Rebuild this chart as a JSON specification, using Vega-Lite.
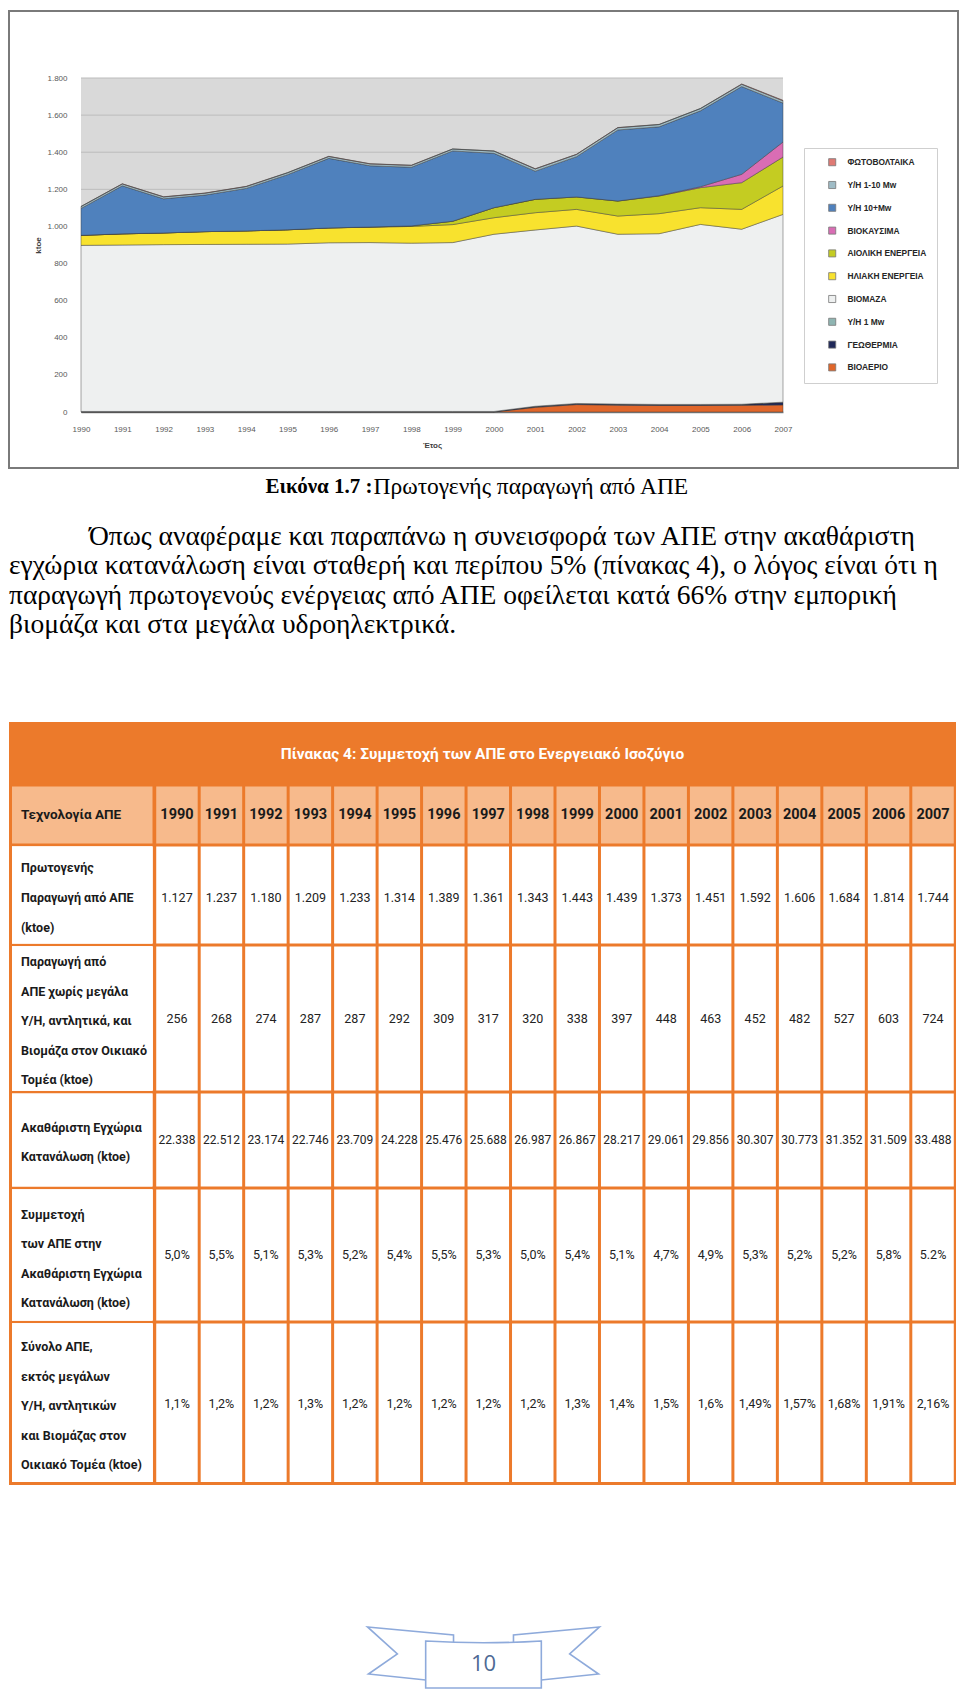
{
  "$schema": "https://vega.github.io/schema/vega-lite/v6.json",
  "background": "white",
  "padding": {"left": 8, "top": 10, "right": 0, "bottom": 0},
  "spacing": 0,
  "config": {"view": {"stroke": null}},
  "datasets": {
    "series": [
      {"source": "ΦΩΤΟΒΟΛΤΑΙΚΑ", "legendRank": 1},
      {"source": "Υ/Η 1-10 Mw", "legendRank": 2},
      {"source": "Υ/Η 10+Mw", "legendRank": 3},
      {"source": "ΒΙΟΚΑΥΣΙΜΑ", "legendRank": 4},
      {"source": "ΑΙΟΛΙΚΗ ΕΝΕΡΓΕΙΑ", "legendRank": 5},
      {"source": "ΗΛΙΑΚΗ ΕΝΕΡΓΕΙΑ", "legendRank": 6},
      {"source": "ΒΙΟΜΑΖΑ", "legendRank": 7},
      {"source": "Υ/Η 1 Mw", "legendRank": 8},
      {"source": "ΓΕΩΘΕΡΜΙΑ", "legendRank": 9},
      {"source": "ΒΙΟΑΕΡΙΟ", "legendRank": 10}
    ],
    "production": [
      {"year": 1990, "source": "ΒΙΟΑΕΡΙΟ", "ktoe": 0}, {"year": 1991, "source": "ΒΙΟΑΕΡΙΟ", "ktoe": 0}, {"year": 1992, "source": "ΒΙΟΑΕΡΙΟ", "ktoe": 0}, {"year": 1993, "source": "ΒΙΟΑΕΡΙΟ", "ktoe": 0}, {"year": 1994, "source": "ΒΙΟΑΕΡΙΟ", "ktoe": 0}, {"year": 1995, "source": "ΒΙΟΑΕΡΙΟ", "ktoe": 0}, {"year": 1996, "source": "ΒΙΟΑΕΡΙΟ", "ktoe": 0}, {"year": 1997, "source": "ΒΙΟΑΕΡΙΟ", "ktoe": 0}, {"year": 1998, "source": "ΒΙΟΑΕΡΙΟ", "ktoe": 0}, {"year": 1999, "source": "ΒΙΟΑΕΡΙΟ", "ktoe": 0}, {"year": 2000, "source": "ΒΙΟΑΕΡΙΟ", "ktoe": 0}, {"year": 2001, "source": "ΒΙΟΑΕΡΙΟ", "ktoe": 25}, {"year": 2002, "source": "ΒΙΟΑΕΡΙΟ", "ktoe": 40}, {"year": 2003, "source": "ΒΙΟΑΕΡΙΟ", "ktoe": 37}, {"year": 2004, "source": "ΒΙΟΑΕΡΙΟ", "ktoe": 35}, {"year": 2005, "source": "ΒΙΟΑΕΡΙΟ", "ktoe": 35}, {"year": 2006, "source": "ΒΙΟΑΕΡΙΟ", "ktoe": 36}, {"year": 2007, "source": "ΒΙΟΑΕΡΙΟ", "ktoe": 38},
      {"year": 1990, "source": "ΓΕΩΘΕΡΜΙΑ", "ktoe": 2}, {"year": 1991, "source": "ΓΕΩΘΕΡΜΙΑ", "ktoe": 2}, {"year": 1992, "source": "ΓΕΩΘΕΡΜΙΑ", "ktoe": 2}, {"year": 1993, "source": "ΓΕΩΘΕΡΜΙΑ", "ktoe": 2}, {"year": 1994, "source": "ΓΕΩΘΕΡΜΙΑ", "ktoe": 2}, {"year": 1995, "source": "ΓΕΩΘΕΡΜΙΑ", "ktoe": 2}, {"year": 1996, "source": "ΓΕΩΘΕΡΜΙΑ", "ktoe": 2}, {"year": 1997, "source": "ΓΕΩΘΕΡΜΙΑ", "ktoe": 2}, {"year": 1998, "source": "ΓΕΩΘΕΡΜΙΑ", "ktoe": 2}, {"year": 1999, "source": "ΓΕΩΘΕΡΜΙΑ", "ktoe": 2}, {"year": 2000, "source": "ΓΕΩΘΕΡΜΙΑ", "ktoe": 2}, {"year": 2001, "source": "ΓΕΩΘΕΡΜΙΑ", "ktoe": 5}, {"year": 2002, "source": "ΓΕΩΘΕΡΜΙΑ", "ktoe": 5}, {"year": 2003, "source": "ΓΕΩΘΕΡΜΙΑ", "ktoe": 5}, {"year": 2004, "source": "ΓΕΩΘΕΡΜΙΑ", "ktoe": 5}, {"year": 2005, "source": "ΓΕΩΘΕΡΜΙΑ", "ktoe": 5}, {"year": 2006, "source": "ΓΕΩΘΕΡΜΙΑ", "ktoe": 5}, {"year": 2007, "source": "ΓΕΩΘΕΡΜΙΑ", "ktoe": 14},
      {"year": 1990, "source": "Υ/Η 1 Mw", "ktoe": 1}, {"year": 1991, "source": "Υ/Η 1 Mw", "ktoe": 1}, {"year": 1992, "source": "Υ/Η 1 Mw", "ktoe": 1}, {"year": 1993, "source": "Υ/Η 1 Mw", "ktoe": 1}, {"year": 1994, "source": "Υ/Η 1 Mw", "ktoe": 1}, {"year": 1995, "source": "Υ/Η 1 Mw", "ktoe": 1}, {"year": 1996, "source": "Υ/Η 1 Mw", "ktoe": 1}, {"year": 1997, "source": "Υ/Η 1 Mw", "ktoe": 1}, {"year": 1998, "source": "Υ/Η 1 Mw", "ktoe": 1}, {"year": 1999, "source": "Υ/Η 1 Mw", "ktoe": 1}, {"year": 2000, "source": "Υ/Η 1 Mw", "ktoe": 1}, {"year": 2001, "source": "Υ/Η 1 Mw", "ktoe": 1}, {"year": 2002, "source": "Υ/Η 1 Mw", "ktoe": 1}, {"year": 2003, "source": "Υ/Η 1 Mw", "ktoe": 1}, {"year": 2004, "source": "Υ/Η 1 Mw", "ktoe": 1}, {"year": 2005, "source": "Υ/Η 1 Mw", "ktoe": 1}, {"year": 2006, "source": "Υ/Η 1 Mw", "ktoe": 1}, {"year": 2007, "source": "Υ/Η 1 Mw", "ktoe": 1},
      {"year": 1990, "source": "ΒΙΟΜΑΖΑ", "ktoe": 895}, {"year": 1991, "source": "ΒΙΟΜΑΖΑ", "ktoe": 897}, {"year": 1992, "source": "ΒΙΟΜΑΖΑ", "ktoe": 899}, {"year": 1993, "source": "ΒΙΟΜΑΖΑ", "ktoe": 900}, {"year": 1994, "source": "ΒΙΟΜΑΖΑ", "ktoe": 901}, {"year": 1995, "source": "ΒΙΟΜΑΖΑ", "ktoe": 902}, {"year": 1996, "source": "ΒΙΟΜΑΖΑ", "ktoe": 909}, {"year": 1997, "source": "ΒΙΟΜΑΖΑ", "ktoe": 910}, {"year": 1998, "source": "ΒΙΟΜΑΖΑ", "ktoe": 907}, {"year": 1999, "source": "ΒΙΟΜΑΖΑ", "ktoe": 910}, {"year": 2000, "source": "ΒΙΟΜΑΖΑ", "ktoe": 955}, {"year": 2001, "source": "ΒΙΟΜΑΖΑ", "ktoe": 950}, {"year": 2002, "source": "ΒΙΟΜΑΖΑ", "ktoe": 956}, {"year": 2003, "source": "ΒΙΟΜΑΖΑ", "ktoe": 915}, {"year": 2004, "source": "ΒΙΟΜΑΖΑ", "ktoe": 920}, {"year": 2005, "source": "ΒΙΟΜΑΖΑ", "ktoe": 970}, {"year": 2006, "source": "ΒΙΟΜΑΖΑ", "ktoe": 943}, {"year": 2007, "source": "ΒΙΟΜΑΖΑ", "ktoe": 1012},
      {"year": 1990, "source": "ΗΛΙΑΚΗ ΕΝΕΡΓΕΙΑ", "ktoe": 54}, {"year": 1991, "source": "ΗΛΙΑΚΗ ΕΝΕΡΓΕΙΑ", "ktoe": 60}, {"year": 1992, "source": "ΗΛΙΑΚΗ ΕΝΕΡΓΕΙΑ", "ktoe": 63}, {"year": 1993, "source": "ΗΛΙΑΚΗ ΕΝΕΡΓΕΙΑ", "ktoe": 69}, {"year": 1994, "source": "ΗΛΙΑΚΗ ΕΝΕΡΓΕΙΑ", "ktoe": 72}, {"year": 1995, "source": "ΗΛΙΑΚΗ ΕΝΕΡΓΕΙΑ", "ktoe": 77}, {"year": 1996, "source": "ΗΛΙΑΚΗ ΕΝΕΡΓΕΙΑ", "ktoe": 80}, {"year": 1997, "source": "ΗΛΙΑΚΗ ΕΝΕΡΓΕΙΑ", "ktoe": 83}, {"year": 1998, "source": "ΗΛΙΑΚΗ ΕΝΕΡΓΕΙΑ", "ktoe": 90}, {"year": 1999, "source": "ΗΛΙΑΚΗ ΕΝΕΡΓΕΙΑ", "ktoe": 97}, {"year": 2000, "source": "ΗΛΙΑΚΗ ΕΝΕΡΓΕΙΑ", "ktoe": 89}, {"year": 2001, "source": "ΗΛΙΑΚΗ ΕΝΕΡΓΕΙΑ", "ktoe": 93}, {"year": 2002, "source": "ΗΛΙΑΚΗ ΕΝΕΡΓΕΙΑ", "ktoe": 90}, {"year": 2003, "source": "ΗΛΙΑΚΗ ΕΝΕΡΓΕΙΑ", "ktoe": 98}, {"year": 2004, "source": "ΗΛΙΑΚΗ ΕΝΕΡΓΕΙΑ", "ktoe": 108}, {"year": 2005, "source": "ΗΛΙΑΚΗ ΕΝΕΡΓΕΙΑ", "ktoe": 90}, {"year": 2006, "source": "ΗΛΙΑΚΗ ΕΝΕΡΓΕΙΑ", "ktoe": 107}, {"year": 2007, "source": "ΗΛΙΑΚΗ ΕΝΕΡΓΕΙΑ", "ktoe": 153},
      {"year": 1990, "source": "ΑΙΟΛΙΚΗ ΕΝΕΡΓΕΙΑ", "ktoe": 0}, {"year": 1991, "source": "ΑΙΟΛΙΚΗ ΕΝΕΡΓΕΙΑ", "ktoe": 0}, {"year": 1992, "source": "ΑΙΟΛΙΚΗ ΕΝΕΡΓΕΙΑ", "ktoe": 0}, {"year": 1993, "source": "ΑΙΟΛΙΚΗ ΕΝΕΡΓΕΙΑ", "ktoe": 0}, {"year": 1994, "source": "ΑΙΟΛΙΚΗ ΕΝΕΡΓΕΙΑ", "ktoe": 0}, {"year": 1995, "source": "ΑΙΟΛΙΚΗ ΕΝΕΡΓΕΙΑ", "ktoe": 0}, {"year": 1996, "source": "ΑΙΟΛΙΚΗ ΕΝΕΡΓΕΙΑ", "ktoe": 0}, {"year": 1997, "source": "ΑΙΟΛΙΚΗ ΕΝΕΡΓΕΙΑ", "ktoe": 1}, {"year": 1998, "source": "ΑΙΟΛΙΚΗ ΕΝΕΡΓΕΙΑ", "ktoe": 3}, {"year": 1999, "source": "ΑΙΟΛΙΚΗ ΕΝΕΡΓΕΙΑ", "ktoe": 18}, {"year": 2000, "source": "ΑΙΟΛΙΚΗ ΕΝΕΡΓΕΙΑ", "ktoe": 54}, {"year": 2001, "source": "ΑΙΟΛΙΚΗ ΕΝΕΡΓΕΙΑ", "ktoe": 72}, {"year": 2002, "source": "ΑΙΟΛΙΚΗ ΕΝΕΡΓΕΙΑ", "ktoe": 67}, {"year": 2003, "source": "ΑΙΟΛΙΚΗ ΕΝΕΡΓΕΙΑ", "ktoe": 81}, {"year": 2004, "source": "ΑΙΟΛΙΚΗ ΕΝΕΡΓΕΙΑ", "ktoe": 95}, {"year": 2005, "source": "ΑΙΟΛΙΚΗ ΕΝΕΡΓΕΙΑ", "ktoe": 108}, {"year": 2006, "source": "ΑΙΟΛΙΚΗ ΕΝΕΡΓΕΙΑ", "ktoe": 144}, {"year": 2007, "source": "ΑΙΟΛΙΚΗ ΕΝΕΡΓΕΙΑ", "ktoe": 156},
      {"year": 1990, "source": "ΒΙΟΚΑΥΣΙΜΑ", "ktoe": 0}, {"year": 1991, "source": "ΒΙΟΚΑΥΣΙΜΑ", "ktoe": 0}, {"year": 1992, "source": "ΒΙΟΚΑΥΣΙΜΑ", "ktoe": 0}, {"year": 1993, "source": "ΒΙΟΚΑΥΣΙΜΑ", "ktoe": 0}, {"year": 1994, "source": "ΒΙΟΚΑΥΣΙΜΑ", "ktoe": 0}, {"year": 1995, "source": "ΒΙΟΚΑΥΣΙΜΑ", "ktoe": 0}, {"year": 1996, "source": "ΒΙΟΚΑΥΣΙΜΑ", "ktoe": 0}, {"year": 1997, "source": "ΒΙΟΚΑΥΣΙΜΑ", "ktoe": 0}, {"year": 1998, "source": "ΒΙΟΚΑΥΣΙΜΑ", "ktoe": 0}, {"year": 1999, "source": "ΒΙΟΚΑΥΣΙΜΑ", "ktoe": 0}, {"year": 2000, "source": "ΒΙΟΚΑΥΣΙΜΑ", "ktoe": 0}, {"year": 2001, "source": "ΒΙΟΚΑΥΣΙΜΑ", "ktoe": 0}, {"year": 2002, "source": "ΒΙΟΚΑΥΣΙΜΑ", "ktoe": 0}, {"year": 2003, "source": "ΒΙΟΚΑΥΣΙΜΑ", "ktoe": 0}, {"year": 2004, "source": "ΒΙΟΚΑΥΣΙΜΑ", "ktoe": 2}, {"year": 2005, "source": "ΒΙΟΚΑΥΣΙΜΑ", "ktoe": 5}, {"year": 2006, "source": "ΒΙΟΚΑΥΣΙΜΑ", "ktoe": 45}, {"year": 2007, "source": "ΒΙΟΚΑΥΣΙΜΑ", "ktoe": 81},
      {"year": 1990, "source": "Υ/Η 10+Mw", "ktoe": 145}, {"year": 1991, "source": "Υ/Η 10+Mw", "ktoe": 259}, {"year": 1992, "source": "Υ/Η 10+Mw", "ktoe": 184}, {"year": 1993, "source": "Υ/Η 10+Mw", "ktoe": 197}, {"year": 1994, "source": "Υ/Η 10+Mw", "ktoe": 229}, {"year": 1995, "source": "Υ/Η 10+Mw", "ktoe": 297}, {"year": 1996, "source": "Υ/Η 10+Mw", "ktoe": 375}, {"year": 1997, "source": "Υ/Η 10+Mw", "ktoe": 330}, {"year": 1998, "source": "Υ/Η 10+Mw", "ktoe": 316}, {"year": 1999, "source": "Υ/Η 10+Mw", "ktoe": 379}, {"year": 2000, "source": "Υ/Η 10+Mw", "ktoe": 293}, {"year": 2001, "source": "Υ/Η 10+Mw", "ktoe": 152}, {"year": 2002, "source": "Υ/Η 10+Mw", "ktoe": 217}, {"year": 2003, "source": "Υ/Η 10+Mw", "ktoe": 383}, {"year": 2004, "source": "Υ/Η 10+Mw", "ktoe": 371}, {"year": 2005, "source": "Υ/Η 10+Mw", "ktoe": 409}, {"year": 2006, "source": "Υ/Η 10+Mw", "ktoe": 473}, {"year": 2007, "source": "Υ/Η 10+Mw", "ktoe": 210},
      {"year": 1990, "source": "Υ/Η 1-10 Mw", "ktoe": 10}, {"year": 1991, "source": "Υ/Η 1-10 Mw", "ktoe": 10}, {"year": 1992, "source": "Υ/Η 1-10 Mw", "ktoe": 10}, {"year": 1993, "source": "Υ/Η 1-10 Mw", "ktoe": 10}, {"year": 1994, "source": "Υ/Η 1-10 Mw", "ktoe": 10}, {"year": 1995, "source": "Υ/Η 1-10 Mw", "ktoe": 10}, {"year": 1996, "source": "Υ/Η 1-10 Mw", "ktoe": 10}, {"year": 1997, "source": "Υ/Η 1-10 Mw", "ktoe": 10}, {"year": 1998, "source": "Υ/Η 1-10 Mw", "ktoe": 10}, {"year": 1999, "source": "Υ/Η 1-10 Mw", "ktoe": 10}, {"year": 2000, "source": "Υ/Η 1-10 Mw", "ktoe": 12}, {"year": 2001, "source": "Υ/Η 1-10 Mw", "ktoe": 12}, {"year": 2002, "source": "Υ/Η 1-10 Mw", "ktoe": 12}, {"year": 2003, "source": "Υ/Η 1-10 Mw", "ktoe": 12}, {"year": 2004, "source": "Υ/Η 1-10 Mw", "ktoe": 12}, {"year": 2005, "source": "Υ/Η 1-10 Mw", "ktoe": 12}, {"year": 2006, "source": "Υ/Η 1-10 Mw", "ktoe": 12}, {"year": 2007, "source": "Υ/Η 1-10 Mw", "ktoe": 12},
      {"year": 1990, "source": "ΦΩΤΟΒΟΛΤΑΙΚΑ", "ktoe": 1}, {"year": 1991, "source": "ΦΩΤΟΒΟΛΤΑΙΚΑ", "ktoe": 1}, {"year": 1992, "source": "ΦΩΤΟΒΟΛΤΑΙΚΑ", "ktoe": 1}, {"year": 1993, "source": "ΦΩΤΟΒΟΛΤΑΙΚΑ", "ktoe": 1}, {"year": 1994, "source": "ΦΩΤΟΒΟΛΤΑΙΚΑ", "ktoe": 1}, {"year": 1995, "source": "ΦΩΤΟΒΟΛΤΑΙΚΑ", "ktoe": 1}, {"year": 1996, "source": "ΦΩΤΟΒΟΛΤΑΙΚΑ", "ktoe": 1}, {"year": 1997, "source": "ΦΩΤΟΒΟΛΤΑΙΚΑ", "ktoe": 1}, {"year": 1998, "source": "ΦΩΤΟΒΟΛΤΑΙΚΑ", "ktoe": 1}, {"year": 1999, "source": "ΦΩΤΟΒΟΛΤΑΙΚΑ", "ktoe": 1}, {"year": 2000, "source": "ΦΩΤΟΒΟΛΤΑΙΚΑ", "ktoe": 1}, {"year": 2001, "source": "ΦΩΤΟΒΟΛΤΑΙΚΑ", "ktoe": 1}, {"year": 2002, "source": "ΦΩΤΟΒΟΛΤΑΙΚΑ", "ktoe": 1}, {"year": 2003, "source": "ΦΩΤΟΒΟΛΤΑΙΚΑ", "ktoe": 1}, {"year": 2004, "source": "ΦΩΤΟΒΟΛΤΑΙΚΑ", "ktoe": 1}, {"year": 2005, "source": "ΦΩΤΟΒΟΛΤΑΙΚΑ", "ktoe": 1}, {"year": 2006, "source": "ΦΩΤΟΒΟΛΤΑΙΚΑ", "ktoe": 2}, {"year": 2007, "source": "ΦΩΤΟΒΟΛΤΑΙΚΑ", "ktoe": 3}
    ],
    "gridlines": [{"ktoe": 200}, {"ktoe": 400}, {"ktoe": 600}, {"ktoe": 800}, {"ktoe": 1000}, {"ktoe": 1200}, {"ktoe": 1400}, {"ktoe": 1600}, {"ktoe": 1800}],
    "paragraph": [
      {"line": 1, "indent": 1, "text": "Όπως αναφέραμε και παραπάνω η συνεισφορά των ΑΠΕ στην ακαθάριστη"},
      {"line": 2, "indent": 0, "text": "εγχώρια κατανάλωση είναι σταθερή και περίπου  5% (πίνακας 4), ο λόγος είναι ότι η"},
      {"line": 3, "indent": 0, "text": "παραγωγή πρωτογενούς ενέργειας από ΑΠΕ οφείλεται κατά 66% στην εμπορική"},
      {"line": 4, "indent": 0, "text": "βιομάζα και στα  μεγάλα υδροηλεκτρικά."}
    ],
    "rowLabels": [
      {"metric": "r1", "line": 1, "text": "Πρωτογενής"},
      {"metric": "r1", "line": 2, "text": "Παραγωγή από ΑΠΕ"},
      {"metric": "r1", "line": 3, "text": "(ktoe)"},
      {"metric": "r2", "line": 1, "text": "Παραγωγή από"},
      {"metric": "r2", "line": 2, "text": "ΑΠΕ χωρίς μεγάλα"},
      {"metric": "r2", "line": 3, "text": "Υ/Η, αντλητικά, και"},
      {"metric": "r2", "line": 4, "text": "Βιομάζα στον Οικιακό"},
      {"metric": "r2", "line": 5, "text": "Τομέα (ktoe)"},
      {"metric": "r3", "line": 1, "text": "Ακαθάριστη Εγχώρια"},
      {"metric": "r3", "line": 2, "text": "Κατανάλωση (ktoe)"},
      {"metric": "r4", "line": 1, "text": "Συμμετοχή"},
      {"metric": "r4", "line": 2, "text": "των ΑΠΕ στην"},
      {"metric": "r4", "line": 3, "text": "Ακαθάριστη Εγχώρια"},
      {"metric": "r4", "line": 4, "text": "Κατανάλωση (ktoe)"},
      {"metric": "r5", "line": 1, "text": "Σύνολο ΑΠΕ,"},
      {"metric": "r5", "line": 2, "text": "εκτός μεγάλων"},
      {"metric": "r5", "line": 3, "text": "Υ/Η, αντλητικών"},
      {"metric": "r5", "line": 4, "text": "και Βιομάζας στον"},
      {"metric": "r5", "line": 5, "text": "Οικιακό Τομέα (ktoe)"}
    ],
    "table": [
      {"metric": "r1", "year": "1990", "value": "1.127"}, {"metric": "r1", "year": "1991", "value": "1.237"}, {"metric": "r1", "year": "1992", "value": "1.180"}, {"metric": "r1", "year": "1993", "value": "1.209"}, {"metric": "r1", "year": "1994", "value": "1.233"}, {"metric": "r1", "year": "1995", "value": "1.314"}, {"metric": "r1", "year": "1996", "value": "1.389"}, {"metric": "r1", "year": "1997", "value": "1.361"}, {"metric": "r1", "year": "1998", "value": "1.343"}, {"metric": "r1", "year": "1999", "value": "1.443"}, {"metric": "r1", "year": "2000", "value": "1.439"}, {"metric": "r1", "year": "2001", "value": "1.373"}, {"metric": "r1", "year": "2002", "value": "1.451"}, {"metric": "r1", "year": "2003", "value": "1.592"}, {"metric": "r1", "year": "2004", "value": "1.606"}, {"metric": "r1", "year": "2005", "value": "1.684"}, {"metric": "r1", "year": "2006", "value": "1.814"}, {"metric": "r1", "year": "2007", "value": "1.744"},
      {"metric": "r2", "year": "1990", "value": "256"}, {"metric": "r2", "year": "1991", "value": "268"}, {"metric": "r2", "year": "1992", "value": "274"}, {"metric": "r2", "year": "1993", "value": "287"}, {"metric": "r2", "year": "1994", "value": "287"}, {"metric": "r2", "year": "1995", "value": "292"}, {"metric": "r2", "year": "1996", "value": "309"}, {"metric": "r2", "year": "1997", "value": "317"}, {"metric": "r2", "year": "1998", "value": "320"}, {"metric": "r2", "year": "1999", "value": "338"}, {"metric": "r2", "year": "2000", "value": "397"}, {"metric": "r2", "year": "2001", "value": "448"}, {"metric": "r2", "year": "2002", "value": "463"}, {"metric": "r2", "year": "2003", "value": "452"}, {"metric": "r2", "year": "2004", "value": "482"}, {"metric": "r2", "year": "2005", "value": "527"}, {"metric": "r2", "year": "2006", "value": "603"}, {"metric": "r2", "year": "2007", "value": "724"},
      {"metric": "r3", "year": "1990", "value": "22.338"}, {"metric": "r3", "year": "1991", "value": "22.512"}, {"metric": "r3", "year": "1992", "value": "23.174"}, {"metric": "r3", "year": "1993", "value": "22.746"}, {"metric": "r3", "year": "1994", "value": "23.709"}, {"metric": "r3", "year": "1995", "value": "24.228"}, {"metric": "r3", "year": "1996", "value": "25.476"}, {"metric": "r3", "year": "1997", "value": "25.688"}, {"metric": "r3", "year": "1998", "value": "26.987"}, {"metric": "r3", "year": "1999", "value": "26.867"}, {"metric": "r3", "year": "2000", "value": "28.217"}, {"metric": "r3", "year": "2001", "value": "29.061"}, {"metric": "r3", "year": "2002", "value": "29.856"}, {"metric": "r3", "year": "2003", "value": "30.307"}, {"metric": "r3", "year": "2004", "value": "30.773"}, {"metric": "r3", "year": "2005", "value": "31.352"}, {"metric": "r3", "year": "2006", "value": "31.509"}, {"metric": "r3", "year": "2007", "value": "33.488"},
      {"metric": "r4", "year": "1990", "value": "5,0%"}, {"metric": "r4", "year": "1991", "value": "5,5%"}, {"metric": "r4", "year": "1992", "value": "5,1%"}, {"metric": "r4", "year": "1993", "value": "5,3%"}, {"metric": "r4", "year": "1994", "value": "5,2%"}, {"metric": "r4", "year": "1995", "value": "5,4%"}, {"metric": "r4", "year": "1996", "value": "5,5%"}, {"metric": "r4", "year": "1997", "value": "5,3%"}, {"metric": "r4", "year": "1998", "value": "5,0%"}, {"metric": "r4", "year": "1999", "value": "5,4%"}, {"metric": "r4", "year": "2000", "value": "5,1%"}, {"metric": "r4", "year": "2001", "value": "4,7%"}, {"metric": "r4", "year": "2002", "value": "4,9%"}, {"metric": "r4", "year": "2003", "value": "5,3%"}, {"metric": "r4", "year": "2004", "value": "5,2%"}, {"metric": "r4", "year": "2005", "value": "5,2%"}, {"metric": "r4", "year": "2006", "value": "5,8%"}, {"metric": "r4", "year": "2007", "value": "5.2%"},
      {"metric": "r5", "year": "1990", "value": "1,1%"}, {"metric": "r5", "year": "1991", "value": "1,2%"}, {"metric": "r5", "year": "1992", "value": "1,2%"}, {"metric": "r5", "year": "1993", "value": "1,3%"}, {"metric": "r5", "year": "1994", "value": "1,2%"}, {"metric": "r5", "year": "1995", "value": "1,2%"}, {"metric": "r5", "year": "1996", "value": "1,2%"}, {"metric": "r5", "year": "1997", "value": "1,2%"}, {"metric": "r5", "year": "1998", "value": "1,2%"}, {"metric": "r5", "year": "1999", "value": "1,3%"}, {"metric": "r5", "year": "2000", "value": "1,4%"}, {"metric": "r5", "year": "2001", "value": "1,5%"}, {"metric": "r5", "year": "2002", "value": "1,6%"}, {"metric": "r5", "year": "2003", "value": "1,49%"}, {"metric": "r5", "year": "2004", "value": "1,57%"}, {"metric": "r5", "year": "2005", "value": "1,68%"}, {"metric": "r5", "year": "2006", "value": "1,91%"}, {"metric": "r5", "year": "2007", "value": "2,16%"}
    ]
  },
  "vconcat": [
    {
      "width": 949,
      "height": 457,
      "view": {"fill": "white", "stroke": "#7a7a7a", "strokeWidth": 2},
      "layer": [
        {
          "data": {"values": [{}]},
          "mark": {"type": "rect", "fill": "#d9d9d9"},
          "encoding": {
            "x": {"datum": 1990, "type": "quantitative", "scale": {"domain": [1990, 2007], "range": [72, 774], "nice": false, "zero": false}},
            "x2": {"datum": 2007},
            "y": {"datum": 0, "type": "quantitative", "scale": {"domain": [0, 1800], "range": [401, 67], "nice": false}},
            "y2": {"datum": 1800}
          }
        },
        {
          "data": {"name": "gridlines"},
          "mark": {"type": "rule", "color": "#bcbcbc", "strokeWidth": 1},
          "encoding": {
            "y": {"field": "ktoe", "type": "quantitative"},
            "x": {"datum": 1990, "type": "quantitative"},
            "x2": {"datum": 2007}
          }
        },
        {
          "data": {"name": "production"},
          "transform": [{"lookup": "source", "from": {"data": {"name": "series"}, "key": "source", "fields": ["legendRank"]}}],
          "mark": {"type": "area", "opacity": 1, "stroke": "#3c3c3c", "strokeWidth": 0.6, "strokeOpacity": 0.75},
          "encoding": {
            "x": {
              "field": "year", "type": "quantitative",
              "axis": {"values": [1990, 1991, 1992, 1993, 1994, 1995, 1996, 1997, 1998, 1999, 2000, 2001, 2002, 2003, 2004, 2005, 2006, 2007], "format": "d", "labelFont": "Liberation Sans", "labelFontSize": 8, "labelColor": "#595959", "labelPadding": 13, "labelFlush": false, "labelOverlap": false, "ticks": false, "grid": false, "domainColor": "#7f7f7f", "domainWidth": 1.5, "offset": -56, "title": "Έτος", "titleFont": "Liberation Sans", "titleFontSize": 8, "titleFontWeight": "bold", "titleColor": "#404040", "titlePadding": 8}
            },
            "y": {
              "field": "ktoe", "type": "quantitative", "stack": "zero",
              "axis": {"values": [0, 200, 400, 600, 800, 1000, 1200, 1400, 1600, 1800], "labelExpr": "replace(format(datum.value, ','), ',', '.')", "labelFont": "Liberation Sans", "labelFontSize": 8, "labelColor": "#595959", "labelPadding": 14, "ticks": false, "grid": false, "domainColor": "#a6a6a6", "offset": -72, "title": "ktoe", "titleFont": "Liberation Sans", "titleFontSize": 8, "titleFontWeight": "bold", "titleColor": "#404040", "titlePadding": 4}
            },
            "color": {
              "field": "source", "type": "nominal",
              "scale": {
                "domain": ["ΦΩΤΟΒΟΛΤΑΙΚΑ", "Υ/Η 1-10 Mw", "Υ/Η 10+Mw", "ΒΙΟΚΑΥΣΙΜΑ", "ΑΙΟΛΙΚΗ ΕΝΕΡΓΕΙΑ", "ΗΛΙΑΚΗ ΕΝΕΡΓΕΙΑ", "ΒΙΟΜΑΖΑ", "Υ/Η 1 Mw", "ΓΕΩΘΕΡΜΙΑ", "ΒΙΟΑΕΡΙΟ"],
                "range": ["#df7a74", "#9fbcc6", "#4f81bd", "#d96db4", "#c4cc22", "#f8e22e", "#eef0f0", "#8fb5b2", "#1f2858", "#e0662a"]
              },
              "legend": {"title": null, "orient": "none", "legendX": 795, "legendY": 137, "padding": 10, "strokeColor": "#cfcfcf", "fillColor": "white", "symbolType": "square", "symbolSize": 50, "symbolStrokeColor": "#777777", "symbolStrokeWidth": 0.8, "symbolOffset": 14, "labelOffset": 11, "labelFont": "Liberation Sans", "labelFontSize": 8.4, "labelFontWeight": "bold", "labelColor": "#262626", "rowPadding": 11.8}
            },
            "order": {"field": "legendRank", "type": "quantitative", "sort": "descending"}
          }
        }
      ]
    },
    {
      "width": 949,
      "height": 36,
      "data": {"values": [{"lead": "Εικόνα 1.7 :", "caption": "Πρωτογενής παραγωγή από ΑΠΕ"}]},
      "layer": [
        {"mark": {"type": "text", "align": "right", "baseline": "middle", "dx": -111, "font": "Liberation Serif", "fontSize": 21, "fontWeight": "bold", "color": "#000000"}, "encoding": {"text": {"field": "lead"}}},
        {"mark": {"type": "text", "align": "left", "baseline": "middle", "dx": -110, "font": "Liberation Serif", "fontSize": 23.5, "color": "#000000"}, "encoding": {"text": {"field": "caption"}}}
      ]
    },
    {
      "width": 949,
      "height": 217,
      "data": {"name": "paragraph"},
      "mark": {"type": "text", "align": "left", "baseline": "middle", "font": "Liberation Serif", "fontSize": 27.5, "color": "#000000"},
      "encoding": {
        "x": {"field": "indent", "type": "quantitative", "axis": null, "scale": {"domain": [0, 1], "range": [0, 80]}},
        "y": {"field": "line", "type": "quantitative", "axis": null, "scale": {"domain": [1, 4], "range": [32, 120]}},
        "text": {"field": "text"}
      }
    },
    {
      "spacing": 0,
      "vconcat": [
        {
          "width": 947,
          "height": 63,
          "view": {"fill": "#ec7a2b"},
          "data": {"values": [{"title": "Πίνακας 4: Συμμετοχή των ΑΠΕ στο Ενεργειακό Ισοζύγιο"}]},
          "mark": {"type": "text", "baseline": "middle", "font": "Roboto", "fontSize": 15.5, "fontWeight": "bold", "color": "#ffffff"},
          "encoding": {"text": {"field": "title"}}
        },
        {
          "spacing": 0,
          "hconcat": [
            {
              "width": 145, "height": 60,
              "view": {"fill": "#ec7a2b"},
              "data": {"values": [{"head": "Τεχνολογία ΑΠΕ"}]},
              "layer": [
                {"mark": {"type": "rect", "fill": "#f7ba8c"}, "encoding": {"x": {"datum": 0, "type": "quantitative", "axis": null, "scale": {"domain": [0, 1], "range": [3, 143.5]}}, "x2": {"datum": 1}, "y": {"datum": 0, "type": "quantitative", "axis": null, "scale": {"domain": [0, 1], "range": [1.5, 58.5]}}, "y2": {"datum": 1}}},
                {"mark": {"type": "text", "align": "left", "baseline": "middle", "dx": -60.5, "font": "Roboto", "fontSize": 13.5, "fontWeight": "bold", "color": "#1a1a1a"}, "encoding": {"text": {"field": "head"}}}
              ]
            },
            {
              "width": 802, "height": 60,
              "view": {"fill": "#ec7a2b"},
              "data": {"name": "table"},
              "transform": [{"filter": "datum.metric === 'r1'"}],
              "layer": [
                {"mark": {"type": "rect", "fill": "#f7ba8c"}, "encoding": {"x": {"field": "year", "type": "ordinal", "axis": null, "scale": {"paddingInner": 0.0673, "paddingOuter": 0.05}}, "y": {"datum": 0, "type": "quantitative", "axis": null, "scale": {"domain": [0, 1], "range": [1.5, 58.5]}}, "y2": {"datum": 1}}},
                {"mark": {"type": "text", "baseline": "middle", "font": "Roboto", "fontSize": 14.5, "fontWeight": "bold", "color": "#1a1a1a"}, "encoding": {"x": {"field": "year", "type": "ordinal", "axis": null}, "text": {"field": "year"}}}
              ]
            }
          ]
        },
        {
          "spacing": 0,
          "hconcat": [
            {
              "width": 145, "height": 100,
              "view": {"fill": "#ec7a2b"},
              "data": {"name": "rowLabels"}, "transform": [{"filter": "datum.metric === 'r1'"}],
              "resolve": {"scale": {"y": "independent"}},
              "layer": [
                {"mark": {"type": "rect", "fill": "white"}, "encoding": {"x": {"datum": 0, "type": "quantitative", "axis": null, "scale": {"domain": [0, 1], "range": [3, 143.5]}}, "x2": {"datum": 1}, "y": {"datum": 0, "type": "quantitative", "axis": null, "scale": {"domain": [0, 1], "range": [1.5, 98.5]}}, "y2": {"datum": 1}}},
                {"mark": {"type": "text", "align": "left", "baseline": "middle", "dx": -60.5, "font": "Roboto", "fontSize": 12.5, "fontWeight": "bold", "color": "#1a1a1a"}, "encoding": {"y": {"field": "line", "type": "quantitative", "axis": null, "scale": {"domain": [1, 3], "range": [23, 83]}}, "text": {"field": "text"}}}
              ]
            },
            {
              "width": 802, "height": 100,
              "view": {"fill": "#ec7a2b"},
              "data": {"name": "table"}, "transform": [{"filter": "datum.metric === 'r1'"}],
              "layer": [
                {"mark": {"type": "rect", "fill": "white"}, "encoding": {"x": {"field": "year", "type": "ordinal", "axis": null, "scale": {"paddingInner": 0.0673, "paddingOuter": 0.05}}, "y": {"datum": 0, "type": "quantitative", "axis": null, "scale": {"domain": [0, 1], "range": [1.5, 98.5]}}, "y2": {"datum": 1}}},
                {"mark": {"type": "text", "baseline": "middle", "dy": 3, "font": "Roboto", "fontSize": 12.5, "color": "#222222"}, "encoding": {"x": {"field": "year", "type": "ordinal", "axis": null}, "text": {"field": "value"}}}
              ]
            }
          ]
        },
        {
          "spacing": 0,
          "hconcat": [
            {
              "width": 145, "height": 147,
              "view": {"fill": "#ec7a2b"},
              "data": {"name": "rowLabels"}, "transform": [{"filter": "datum.metric === 'r2'"}],
              "resolve": {"scale": {"y": "independent"}},
              "layer": [
                {"mark": {"type": "rect", "fill": "white"}, "encoding": {"x": {"datum": 0, "type": "quantitative", "axis": null, "scale": {"domain": [0, 1], "range": [3, 143.5]}}, "x2": {"datum": 1}, "y": {"datum": 0, "type": "quantitative", "axis": null, "scale": {"domain": [0, 1], "range": [1.5, 145.5]}}, "y2": {"datum": 1}}},
                {"mark": {"type": "text", "align": "left", "baseline": "middle", "dx": -60.5, "font": "Roboto", "fontSize": 12.5, "fontWeight": "bold", "color": "#1a1a1a"}, "encoding": {"y": {"field": "line", "type": "quantitative", "axis": null, "scale": {"domain": [1, 5], "range": [17, 135]}}, "text": {"field": "text"}}}
              ]
            },
            {
              "width": 802, "height": 147,
              "view": {"fill": "#ec7a2b"},
              "data": {"name": "table"}, "transform": [{"filter": "datum.metric === 'r2'"}],
              "layer": [
                {"mark": {"type": "rect", "fill": "white"}, "encoding": {"x": {"field": "year", "type": "ordinal", "axis": null, "scale": {"paddingInner": 0.0673, "paddingOuter": 0.05}}, "y": {"datum": 0, "type": "quantitative", "axis": null, "scale": {"domain": [0, 1], "range": [1.5, 145.5]}}, "y2": {"datum": 1}}},
                {"mark": {"type": "text", "baseline": "middle", "font": "Roboto", "fontSize": 12.5, "color": "#222222"}, "encoding": {"x": {"field": "year", "type": "ordinal", "axis": null}, "text": {"field": "value"}}}
              ]
            }
          ]
        },
        {
          "spacing": 0,
          "hconcat": [
            {
              "width": 145, "height": 96,
              "view": {"fill": "#ec7a2b"},
              "data": {"name": "rowLabels"}, "transform": [{"filter": "datum.metric === 'r3'"}],
              "resolve": {"scale": {"y": "independent"}},
              "layer": [
                {"mark": {"type": "rect", "fill": "white"}, "encoding": {"x": {"datum": 0, "type": "quantitative", "axis": null, "scale": {"domain": [0, 1], "range": [3, 143.5]}}, "x2": {"datum": 1}, "y": {"datum": 0, "type": "quantitative", "axis": null, "scale": {"domain": [0, 1], "range": [1.5, 94.5]}}, "y2": {"datum": 1}}},
                {"mark": {"type": "text", "align": "left", "baseline": "middle", "dx": -60.5, "font": "Roboto", "fontSize": 12.5, "fontWeight": "bold", "color": "#1a1a1a"}, "encoding": {"y": {"field": "line", "type": "quantitative", "axis": null, "scale": {"domain": [1, 2], "range": [36, 65]}}, "text": {"field": "text"}}}
              ]
            },
            {
              "width": 802, "height": 96,
              "view": {"fill": "#ec7a2b"},
              "data": {"name": "table"}, "transform": [{"filter": "datum.metric === 'r3'"}],
              "layer": [
                {"mark": {"type": "rect", "fill": "white"}, "encoding": {"x": {"field": "year", "type": "ordinal", "axis": null, "scale": {"paddingInner": 0.0673, "paddingOuter": 0.05}}, "y": {"datum": 0, "type": "quantitative", "axis": null, "scale": {"domain": [0, 1], "range": [1.5, 94.5]}}, "y2": {"datum": 1}}},
                {"mark": {"type": "text", "baseline": "middle", "font": "Roboto", "fontSize": 12, "color": "#222222"}, "encoding": {"x": {"field": "year", "type": "ordinal", "axis": null}, "text": {"field": "value"}}}
              ]
            }
          ]
        },
        {
          "spacing": 0,
          "hconcat": [
            {
              "width": 145, "height": 134,
              "view": {"fill": "#ec7a2b"},
              "data": {"name": "rowLabels"}, "transform": [{"filter": "datum.metric === 'r4'"}],
              "resolve": {"scale": {"y": "independent"}},
              "layer": [
                {"mark": {"type": "rect", "fill": "white"}, "encoding": {"x": {"datum": 0, "type": "quantitative", "axis": null, "scale": {"domain": [0, 1], "range": [3, 143.5]}}, "x2": {"datum": 1}, "y": {"datum": 0, "type": "quantitative", "axis": null, "scale": {"domain": [0, 1], "range": [1.5, 132.5]}}, "y2": {"datum": 1}}},
                {"mark": {"type": "text", "align": "left", "baseline": "middle", "dx": -60.5, "font": "Roboto", "fontSize": 12.5, "fontWeight": "bold", "color": "#1a1a1a"}, "encoding": {"y": {"field": "line", "type": "quantitative", "axis": null, "scale": {"domain": [1, 4], "range": [27, 115]}}, "text": {"field": "text"}}}
              ]
            },
            {
              "width": 802, "height": 134,
              "view": {"fill": "#ec7a2b"},
              "data": {"name": "table"}, "transform": [{"filter": "datum.metric === 'r4'"}],
              "layer": [
                {"mark": {"type": "rect", "fill": "white"}, "encoding": {"x": {"field": "year", "type": "ordinal", "axis": null, "scale": {"paddingInner": 0.0673, "paddingOuter": 0.05}}, "y": {"datum": 0, "type": "quantitative", "axis": null, "scale": {"domain": [0, 1], "range": [1.5, 132.5]}}, "y2": {"datum": 1}}},
                {"mark": {"type": "text", "baseline": "middle", "font": "Roboto", "fontSize": 12.5, "color": "#222222"}, "encoding": {"x": {"field": "year", "type": "ordinal", "axis": null}, "text": {"field": "value"}}}
              ]
            }
          ]
        },
        {
          "spacing": 0,
          "hconcat": [
            {
              "width": 145, "height": 163,
              "view": {"fill": "#ec7a2b"},
              "data": {"name": "rowLabels"}, "transform": [{"filter": "datum.metric === 'r5'"}],
              "resolve": {"scale": {"y": "independent"}},
              "layer": [
                {"mark": {"type": "rect", "fill": "white"}, "encoding": {"x": {"datum": 0, "type": "quantitative", "axis": null, "scale": {"domain": [0, 1], "range": [3, 143.5]}}, "x2": {"datum": 1}, "y": {"datum": 0, "type": "quantitative", "axis": null, "scale": {"domain": [0, 1], "range": [1.5, 160]}}, "y2": {"datum": 1}}},
                {"mark": {"type": "text", "align": "left", "baseline": "middle", "dx": -60.5, "font": "Roboto", "fontSize": 12.5, "fontWeight": "bold", "color": "#1a1a1a"}, "encoding": {"y": {"field": "line", "type": "quantitative", "axis": null, "scale": {"domain": [1, 5], "range": [25, 143]}}, "text": {"field": "text"}}}
              ]
            },
            {
              "width": 802, "height": 163,
              "view": {"fill": "#ec7a2b"},
              "data": {"name": "table"}, "transform": [{"filter": "datum.metric === 'r5'"}],
              "layer": [
                {"mark": {"type": "rect", "fill": "white"}, "encoding": {"x": {"field": "year", "type": "ordinal", "axis": null, "scale": {"paddingInner": 0.0673, "paddingOuter": 0.05}}, "y": {"datum": 0, "type": "quantitative", "axis": null, "scale": {"domain": [0, 1], "range": [1.5, 160]}}, "y2": {"datum": 1}}},
                {"mark": {"type": "text", "baseline": "middle", "font": "Roboto", "fontSize": 12.5, "color": "#222222"}, "encoding": {"x": {"field": "year", "type": "ordinal", "axis": null}, "text": {"field": "value"}}}
              ]
            }
          ]
        }
      ]
    },
    {
      "width": 949,
      "height": 358,
      "data": {"values": [{"page": "10"}]},
      "layer": [
        {"mark": {"type": "point", "shape": "M-0.983,-0.314 L-0.254,-0.246 L-0.254,0.025 L-0.49,0.136 L-0.975,0.085 L-0.73,-0.085 Z", "size": 55696, "filled": true, "fill": "#ffffff", "stroke": "#8eaadb", "strokeWidth": 1.6, "opacity": 1}, "encoding": {}},
        {"mark": {"type": "point", "shape": "M0.983,-0.314 L0.254,-0.246 L0.254,0.025 L0.49,0.136 L0.975,0.085 L0.73,-0.085 Z", "size": 55696, "filled": true, "fill": "#ffffff", "stroke": "#8eaadb", "strokeWidth": 1.6, "opacity": 1}, "encoding": {}},
        {"mark": {"type": "point", "shape": "M-0.49,-0.195 Q0,-0.165 0.49,-0.195 L0.49,0.203 L-0.49,0.203 Z", "size": 55696, "filled": true, "fill": "#ffffff", "stroke": "#8eaadb", "strokeWidth": 1.6, "opacity": 1}, "encoding": {}},
        {"mark": {"type": "text", "baseline": "middle", "font": "'Open Sans', sans-serif", "fontSize": 22, "color": "#4e6a94"}, "encoding": {"text": {"field": "page"}}}
      ]
    }
  ]
}
